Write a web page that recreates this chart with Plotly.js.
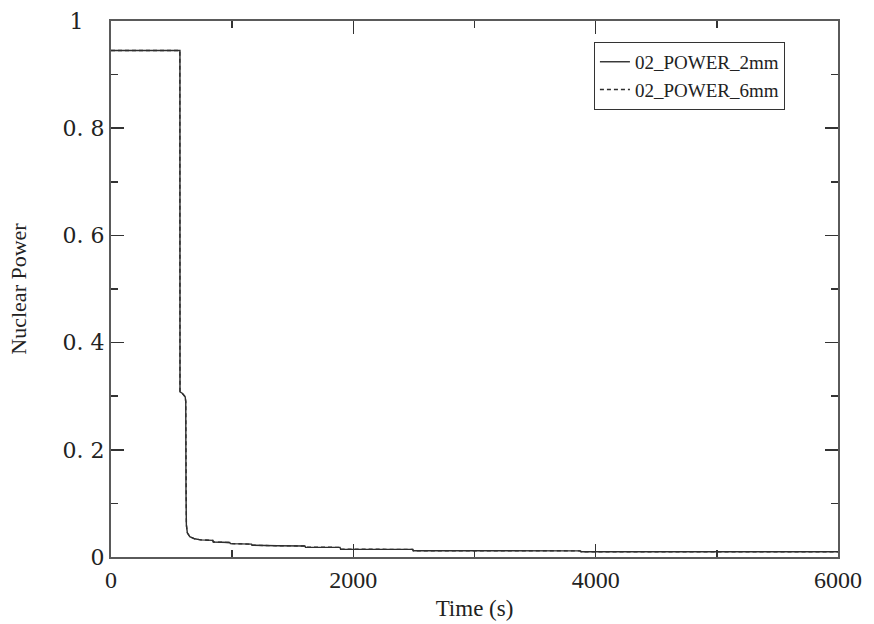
<!DOCTYPE html>
<html>
<head>
<meta charset="utf-8">
<script src="https://cdn.plot.ly/plotly-3.0.1.min.js"></script>
<style>html,body{margin:0;padding:0;background:#fff;}#chart{width:874px;height:624px;}</style>
</head>
<body>
<div id="chart"></div>
<script>
// Series: time (s) and nuclear power (normalized)
const time2mm  = [0, 569, 569.5, 590, 612, 617, 619, 622, 630, 650, 690, 740, 840, 845, 980, 985, 1160, 1165, 1370, 1600, 1605, 1890, 1895, 2490, 2495, 3870, 3880, 6000];
const power2mm = [0.945, 0.945, 0.308, 0.305, 0.299, 0.29, 0.12, 0.06, 0.045, 0.038, 0.034, 0.032, 0.031, 0.028, 0.027, 0.025, 0.024, 0.022, 0.021, 0.0205, 0.0183, 0.018, 0.0145, 0.0142, 0.0118, 0.0115, 0.0099, 0.0099];
const time6mm  = [0, 568, 568.5, 569, 569.5, 590, 612, 617, 619, 622, 630, 650, 690, 740, 840, 845, 980, 985, 1160, 1165, 1370, 1600, 1605, 1890, 1895, 2490, 2495, 3870, 3880, 6000];
const power6mm = [0.945, 0.945, 0.63, 0.55, 0.308, 0.305, 0.299, 0.29, 0.12, 0.06, 0.045, 0.038, 0.034, 0.032, 0.031, 0.028, 0.027, 0.025, 0.024, 0.022, 0.021, 0.0205, 0.0183, 0.018, 0.0145, 0.0142, 0.0118, 0.0115, 0.0099, 0.0099];
const seriesNames = ["02_POWER_2mm", "02_POWER_6mm"];
const xTickVals = [0, 2000, 4000, 6000];
const xTickText = ["0", "2000", "4000", "6000"];
const yTickVals = [0, 0.2, 0.4, 0.6, 0.8, 1];
const yTickText = ["0", "0. 2", "0. 4", "0. 6", "0. 8", "1\u00a0\u00a0\u00a0"];

const traces = [
  {x: time2mm, y: power2mm, name: seriesNames[0], mode: "lines",
   line: {color: "#2e2e2e", width: 1.4, dash: "solid"}},
  {x: time6mm, y: power6mm, name: seriesNames[1], mode: "lines",
   line: {color: "#2e2e2e", width: 1.4, dash: "4px,3px"}}
];

const axisCommon = {
  showline: true, linecolor: "#5a5a5a", linewidth: 2, mirror: "ticks",
  ticks: "inside", tickcolor: "#333", tickwidth: 1.5, ticklen: 13,
  showgrid: false, zeroline: false
};

const layout = {
  width: 874, height: 624,
  margin: {l: 111, r: 36, t: 21, b: 67},
  paper_bgcolor: "#fff", plot_bgcolor: "#fff",
  showlegend: true,
  legend: {x: 0.927, y: 0.961, xanchor: "right", yanchor: "top",
           bgcolor: "#fff", bordercolor: "#333", borderwidth: 1,
           font: {family: "Liberation Serif", size: 19, color: "#222"},
           tracegroupgap: 0},
  xaxis: Object.assign({}, axisCommon, {
    range: [0, 6000], tickmode: "array", tickvals: xTickVals, ticktext: xTickText,
    tickfont: {family: "Liberation Serif", size: 24, color: "#222"},
    minor: {dtick: 1000, ticks: "inside", ticklen: 7, tickcolor: "#333", tickwidth: 1.5},
    title: {text: "Time (s)", font: {family: "Liberation Serif", size: 23, color: "#222"}, standoff: 8}
  }),
  yaxis: Object.assign({}, axisCommon, {
    range: [0, 1], tickmode: "array", tickvals: yTickVals, ticktext: yTickText,
    tickfont: {family: "DejaVu Serif", size: 22, color: "#222"},
    minor: {dtick: 0.1, ticks: "inside", ticklen: 7, tickcolor: "#333", tickwidth: 1.5},
    title: {text: "Nuclear Power", font: {family: "Liberation Serif", size: 22, color: "#222"}, standoff: 30}
  })
};

Plotly.newPlot("chart", traces, layout, {staticPlot: true, displayModeBar: false});
</script>
</body>
</html>
